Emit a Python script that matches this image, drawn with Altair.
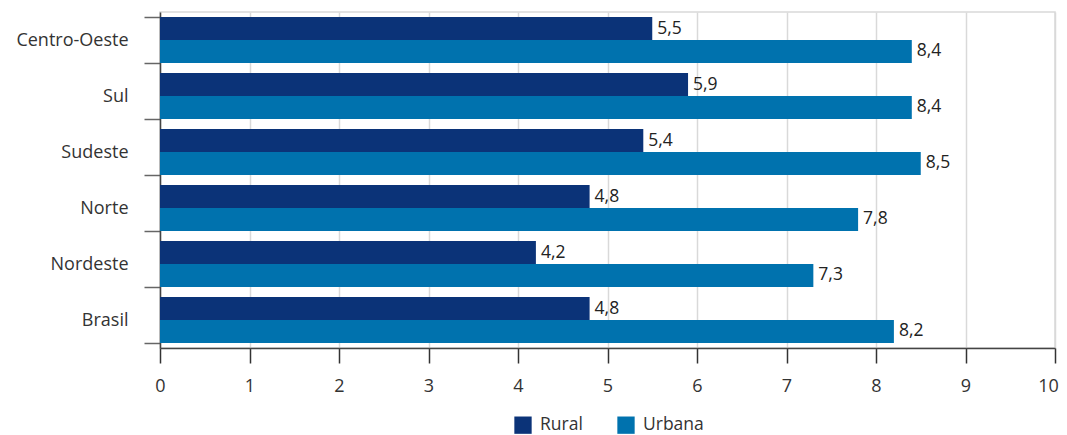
import altair as alt
import pandas as pd

regions = ["Centro-Oeste", "Sul", "Sudeste", "Norte", "Nordeste", "Brasil"]
rural = [5.5, 5.9, 5.4, 4.8, 4.2, 4.8]
urbana = [8.4, 8.4, 8.5, 7.8, 7.3, 8.2]
series = ["Rural", "Urbana"]
colors = ["#0b3378", "#0072ae"]

rows = []
for r, a, b in zip(regions, rural, urbana):
    rows.append({"regiao": r, "serie": "Rural", "valor": a, "rotulo": f"{a:.1f}".replace(".", ",")})
    rows.append({"regiao": r, "serie": "Urbana", "valor": b, "rotulo": f"{b:.1f}".replace(".", ",")})
df = pd.DataFrame(rows)

FONT = "Open Sans"

y = alt.Y("regiao:N", sort=regions, title=None,
          scale=alt.Scale(paddingInner=0.18, paddingOuter=0.09),
          axis=alt.Axis(tickBand="extent", labelFontSize=18, labelColor="#333333",
                        labelFont=FONT, labelPadding=16, tickSize=16, tickColor="#666666",
                        domainColor="#444444", domainWidth=1.5, tickWidth=1.5))
x = alt.X("valor:Q", title=None,
          scale=alt.Scale(domain=[0, 10], nice=False),
          axis=alt.Axis(values=list(range(11)), format="d", tickSize=15, tickColor="#333333",
                        labelFontSize=18, labelColor="#333333", labelFont=FONT,
                        labelFlush=False, tickWidth=1.5,
                        labelOffset={"expr": "datum.value == 10 ? -7 : 0"},
                        labelPadding=14, gridColor="#d9d9d9", gridWidth=1.5,
                        domainColor="#444444", domainWidth=1.5))

base = alt.Chart(df).encode(
    y=y,
    yOffset=alt.YOffset("serie:N", sort=series, scale=alt.Scale(paddingInner=0, paddingOuter=0)),
)

bars = base.mark_bar().encode(
    x=x,
    color=alt.Color("serie:N", sort=series, title=None,
                    scale=alt.Scale(domain=series, range=colors),
                    legend=alt.Legend(orient="none", legendX=354, legendY=404,
                                      direction="horizontal",
                                      symbolType="square", symbolSize=300,
                                      symbolStrokeWidth=0, labelFontSize=17.5,
                                      labelFont=FONT, labelColor="#333333",
                                      columnPadding=34, labelOffset=8)),
)

labels = base.mark_text(align="left", baseline="middle", dx=5, fontSize=17.5,
                        font=FONT, color="#222222").encode(
    x=alt.X("valor:Q"),
    text="rotulo:N",
)

chart = (bars + labels).properties(
    width=895, height=336,
    autosize=alt.AutoSizeParams(type="none"),
    padding={"left": 152, "top": 4, "right": 4, "bottom": 100},
).configure_view(stroke="#d9d9d9", strokeWidth=1.5)

chart.save("out.html", embed_options={"renderer": "svg", "actions": False})
